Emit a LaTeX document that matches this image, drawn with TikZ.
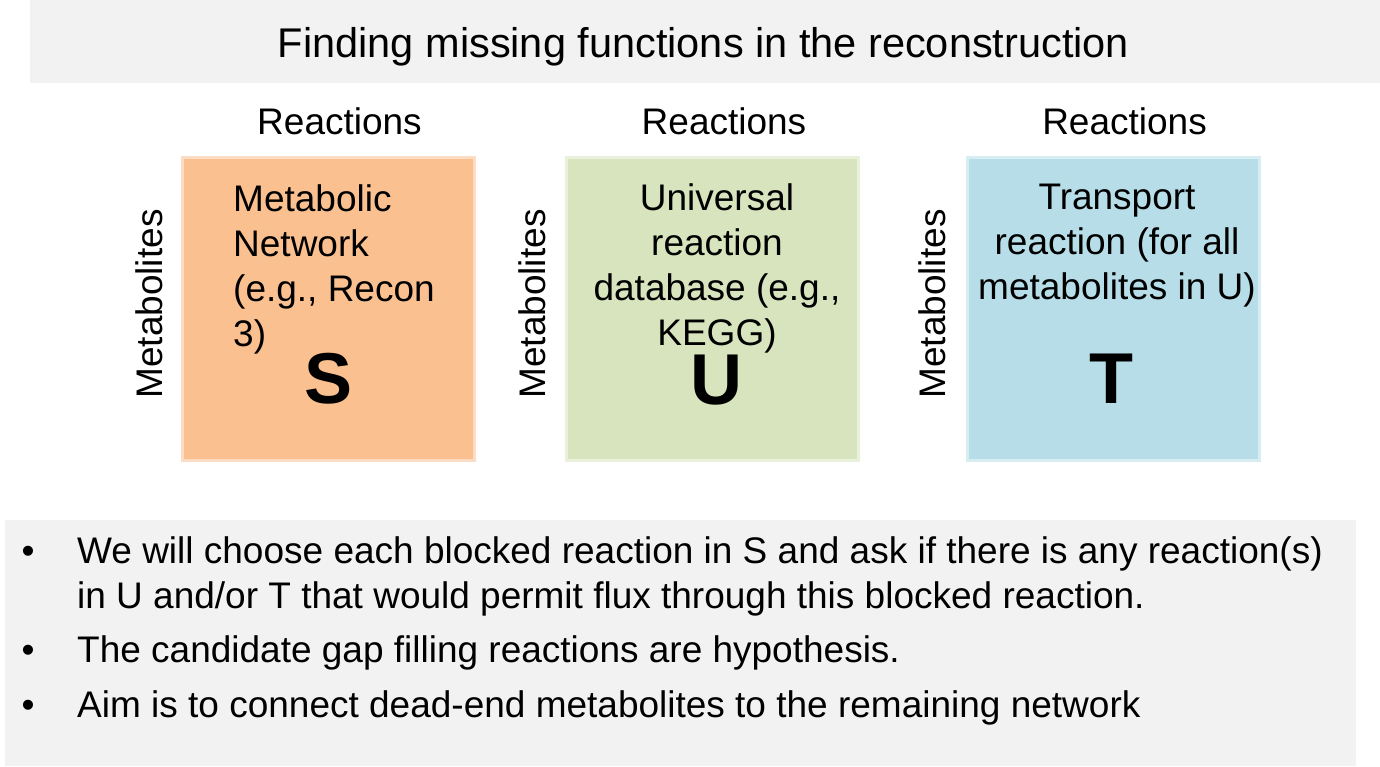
\documentclass[tikz,border=0pt]{standalone}
\usepackage{fontspec}
\setmainfont{Liberation Sans}
\usetikzlibrary{positioning}
\definecolor{bandgray}{HTML}{F2F2F2}
\definecolor{matS}{HTML}{FAC090}
\definecolor{matU}{HTML}{D7E4BD}
\definecolor{matT}{HTML}{B7DEE8}

\begin{document}
\begin{tikzpicture}[x=1pt, y=-1pt,
        mat/.style={rectangle, minimum width=292pt, minimum height=303pt, inner sep=0pt, line width=3pt},
        txt/.style={inner sep=0pt, font=\fontsize{37}{45}\selectfont},
        big/.style={inner sep=0pt, anchor=base, font=\fontsize{72}{80}\selectfont\bfseries}]
    \useasboundingbox (0,0) rectangle (1380,766);
    % grey bands
    \fill[bandgray] (30,0) rectangle (1380,83);
    \fill[bandgray] (5,520) rectangle (1356,766);
    \node[inner sep=0pt, anchor=base, font=\fontsize{41.5}{48}\selectfont] (title) at (703.5,57) {Finding missing functions in the reconstruction};

    % the three matrices
    \node[mat, fill=matS, draw=matS!55] (boxS) at (328.5,309) {};
    \node[mat, fill=matU, draw=matU!55] (boxU) at (712.5,309) {};
    \node[mat, fill=matT, draw=matT!55] (boxT) at (1113.5,309) {};

    \node[txt, anchor=base] (reacS) at (339.5,134) {Reactions};
    \node[txt, anchor=base] (reacU) at (724,134) {Reactions};
    \node[txt, anchor=base] (reacT) at (1124.5,134) {Reactions};
    \node[txt, rotate=90] (metS) at (149,304) {Metabolites};
    \node[txt, rotate=90] (metU) at (532,304) {Metabolites};
    \node[txt, rotate=90] (metT) at (932,304) {Metabolites};

    \node[txt, anchor=north west, align=left] (descS) at (233,184) {Metabolic\\Network\\(e.g., Recon\\3)};
    \node[txt, anchor=north, align=center] (descU) at (717,183) {Universal\\reaction\\database (e.g.,\\KEGG)};
    \node[txt, anchor=north, align=center] (descT) at (1117,184) {Transport\\reaction (for all\\metabolites in U)};
    \node[big] (letS) at (329,403) {S};
    \node[big] (letU) at (716,404) {U};
    \node[big] (letT) at (1111,403) {T};

    % bullet list
    \node[txt, anchor=base] (dot1) at (28,563) {•};
    \node[txt, anchor=base] (dot2) at (28,662) {•};
    \node[txt, anchor=base] (dot3) at (28,717) {•};
    \node[txt, anchor=north west, align=left] (item1) at (77,536) {We will choose each blocked reaction in S and ask if there is any reaction(s)\\in U and/or T that would permit flux through this blocked reaction.};
    \node[txt, anchor=base west] (item2) at (77,662) {The candidate gap filling reactions are hypothesis.};
    \node[txt, anchor=base west] (item3) at (77,717) {Aim is to connect dead-end metabolites to the remaining network};
\end{tikzpicture}
\end{document}
